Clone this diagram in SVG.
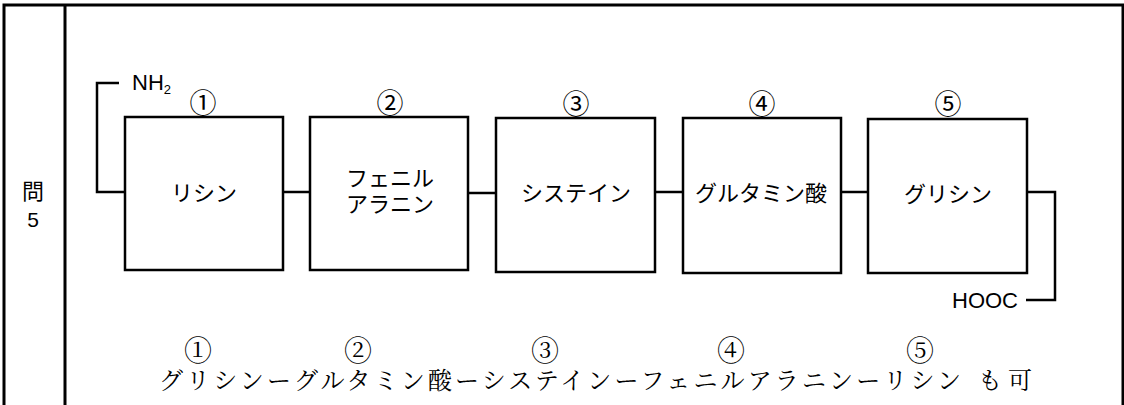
<svg xmlns="http://www.w3.org/2000/svg" width="1124" height="405" viewBox="0 0 1124 405">
<style>
.frame{fill:none;stroke:#000;stroke-width:3}
.box{fill:#fff;stroke:#000;stroke-width:2.5}
.con{fill:none;stroke:#000;stroke-width:2.5}
.g{font-family:"Noto Sans CJK JP","Liberation Sans",sans-serif;font-size:22px;fill:#000;text-anchor:middle}
.c{font-family:"Noto Sans CJK JP",sans-serif;font-size:27px;fill:#000;text-anchor:middle}
.lat{font-family:"Liberation Sans","Noto Sans CJK JP",sans-serif;fill:#000}
.m{font-family:"Liberation Serif","Noto Serif CJK JP","Noto Sans CJK JP",serif;fill:#000}
.mc{font-family:"Noto Serif CJK JP","Liberation Serif",serif;font-size:28px;fill:#000;text-anchor:middle}
</style>
<rect width="1124" height="405" fill="#fff"/>
<g id="frame">
<path class="frame" d="M4,405 V5 H1123 V405"/>
<line class="frame" x1="65" y1="5" x2="65" y2="405"/>
<text class="g" x="33" y="199">問</text>
<text class="lat" x="33" y="227" font-size="21" text-anchor="middle">5</text>
</g>
<g id="connectors">
<path class="con" d="M119,83 H97 V192 H125"/>
<line class="con" x1="283" y1="192" x2="310" y2="192"/>
<line class="con" x1="468" y1="193" x2="496" y2="193"/>
<line class="con" x1="655" y1="192" x2="683" y2="192"/>
<line class="con" x1="841" y1="192" x2="868" y2="192"/>
<path class="con" d="M1027,192 H1055 V300 H1026"/>
</g>
<g id="nh2"><text class="lat" x="132" y="90" font-size="22">NH<tspan font-size="13" dy="4">2</tspan></text></g>
<g id="hooc"><text class="lat" x="1018" y="308" font-size="22" text-anchor="end">HOOC</text></g>
<g id="node1">
<rect class="box" x="125" y="117" width="158" height="153"/>
<text class="c" x="203" y="113">①</text>
<text class="g" x="204" y="201">リシン</text>
</g>
<g id="node2">
<rect class="box" x="310" y="117" width="158" height="153"/>
<text class="c" x="390" y="113">②</text>
<text class="g" x="390" y="186">フェニル</text>
<text class="g" x="390" y="212">アラニン</text>
</g>
<g id="node3">
<rect class="box" x="496" y="118" width="159" height="154"/>
<text class="c" x="576" y="114">③</text>
<text class="g" x="576" y="201">システイン</text>
</g>
<g id="node4">
<rect class="box" x="683" y="118" width="158" height="155"/>
<text class="c" x="762" y="114">④</text>
<text class="g" x="761" y="201">グルタミン酸</text>
</g>
<g id="node5">
<rect class="box" x="868" y="119" width="159" height="154"/>
<text class="c" x="948" y="114">⑤</text>
<text class="g" x="948" y="202">グリシン</text>
</g>
<g id="answer">
<text class="mc" x="198" y="361">①</text>
<text class="mc" x="358" y="361">②</text>
<text class="mc" x="545" y="361">③</text>
<text class="mc" x="731" y="361">④</text>
<text class="mc" x="920" y="361">⑤</text>
<text class="m" font-size="24" x="159" y="389" textLength="802" lengthAdjust="spacing">グリシンーグルタミン酸ーシステインーフェニルアラニンーリシン</text>
<text class="m" font-size="24" x="978" y="389" letter-spacing="6">も可</text>
</g>
</svg>
